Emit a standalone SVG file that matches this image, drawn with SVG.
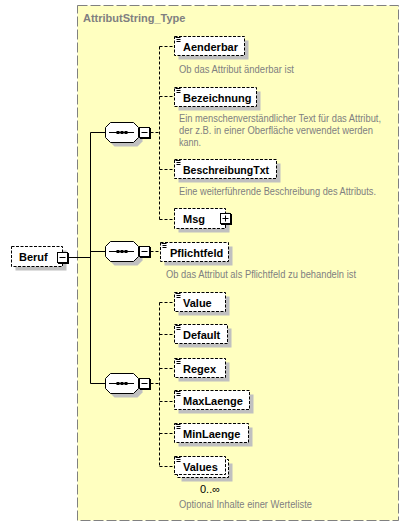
<svg xmlns="http://www.w3.org/2000/svg" xmlns:xlink="http://www.w3.org/1999/xlink" width="409" height="527" viewBox="0 0 409 527">
<style>
.sh{fill:#c0c0c0}
.el{fill:#fff;stroke:#000;stroke-width:1;stroke-dasharray:3,1.5}
.lbl{font-family:'Liberation Sans',Arial,sans-serif;font-weight:bold;font-size:11px;fill:#000}
.desc{font-family:'Liberation Sans',Arial,sans-serif;font-size:10px;fill:#808080}
.solid{stroke:#000;stroke-width:1;fill:none}
.dash{stroke:#000;stroke-width:1;fill:none;stroke-dasharray:3,2}
.ic{stroke:#000;stroke-width:1}
</style>
<defs>
<g id="seq">
<polygon class="sh" points="9.5,4.5 32.5,4.5 37.5,9.5 37.5,19.5 32.5,24.5 9.5,24.5 4.5,19.5 4.5,9.5"/>
<polygon points="5.5,0.5 28.5,0.5 33.5,5.5 33.5,15.5 28.5,20.5 5.5,20.5 0.5,15.5 0.5,5.5" fill="#fff" stroke="#000"/>
<line x1="4" y1="10.5" x2="29" y2="10.5" stroke="#000"/>
<rect x="11.5" y="9" width="3" height="3" fill="#000"/>
<rect x="15.5" y="9" width="3" height="3" fill="#000"/>
<rect x="19.5" y="9" width="3" height="3" fill="#000"/>
<rect x="35" y="6" width="11" height="11" fill="#000"/>
<rect x="34.5" y="5.5" width="10" height="10" fill="#fff" stroke="#000"/>
<line x1="36.5" y1="10.5" x2="42.5" y2="10.5" stroke="#000"/>
</g>
<g id="icon">
<line class="ic" x1="1.5" y1="1.5" x2="6.5" y2="1.5"/>
<line class="ic" x1="2.5" y1="3.5" x2="6.5" y2="3.5"/>
<line class="ic" x1="2.5" y1="5.5" x2="6.5" y2="5.5"/>
</g>
</defs>

<g id="AttributString_Type">
<rect x="77.5" y="5.5" width="321" height="515" fill="#ffffc0" stroke="#808080" stroke-dasharray="10,3"/>
<text x="83" y="22" font-family="'Liberation Sans',Arial,sans-serif" font-weight="bold" font-size="11px" fill="#808080">AttributString_Type</text>
</g>

<g id="connectors">
<path class="solid" d="M68 257.5H90.5M90.5 132.5V383.5M90.5 132.5H105.5M90.5 251.5H105.5M90.5 383.5H105.5"/>
<path class="dash" d="M150.5 132.5H159.5M159.5 46.5V219.5M159.5 46.5H174.5M159.5 96.5H174.5M159.5 169.5H174.5M159.5 219.5H174.5"/>
<path class="dash" d="M150.5 251.5H160.5"/>
<path class="dash" d="M150.5 383.5H159.5M159.5 302.5V466.5M159.5 302.5H174.5M159.5 334.5H174.5M159.5 368.5H174.5M159.5 401.5H174.5M159.5 433.5H174.5M159.5 466.5H174.5"/>
</g>

<g id="Beruf">
<rect class="sh" x="15.5" y="250.5" width="51" height="20"/>
<rect class="el" x="11.5" y="246.5" width="51" height="20"/>
<text class="lbl" x="19" y="261">Beruf</text>
<rect x="58" y="253" width="11" height="11" fill="#000"/>
<rect x="57.5" y="252.5" width="10" height="10" fill="#fff" stroke="#000"/>
<line x1="59.5" y1="257.5" x2="65.5" y2="257.5" stroke="#000"/>
</g>

<g id="sequence1"><use xlink:href="#seq" href="#seq" transform="translate(105,122)"/></g>
<g id="sequence2"><use xlink:href="#seq" href="#seq" transform="translate(105,241)"/></g>
<g id="sequence3"><use xlink:href="#seq" href="#seq" transform="translate(105,373)"/></g>

<g id="Aenderbar">
<rect class="sh" x="178.5" y="40.5" width="70" height="19"/>
<rect class="el" x="174.5" y="36.5" width="70" height="19"/>
<use xlink:href="#icon" href="#icon" transform="translate(174,36)"/>
<text class="lbl" x="183" y="50.5">Aenderbar</text>
<text class="desc" x="179" y="73" textLength="115" lengthAdjust="spacingAndGlyphs">Ob das Attribut änderbar ist</text>
</g>

<g id="Bezeichnung">
<rect class="sh" x="178.5" y="91.5" width="82" height="19"/>
<rect class="el" x="174.5" y="87.5" width="82" height="19"/>
<use xlink:href="#icon" href="#icon" transform="translate(174,87)"/>
<text class="lbl" x="183" y="101.5">Bezeichnung</text>
<text class="desc" x="179" y="122" textLength="202" lengthAdjust="spacingAndGlyphs">Ein menschenverständlicher Text für das Attribut,</text>
<text class="desc" x="179" y="134" textLength="194" lengthAdjust="spacingAndGlyphs">der z.B. in einer Oberfläche verwendet werden</text>
<text class="desc" x="179" y="146" textLength="22" lengthAdjust="spacingAndGlyphs">kann.</text>
</g>

<g id="BeschreibungTxt">
<rect class="sh" x="178.5" y="163.5" width="102" height="19"/>
<rect class="el" x="174.5" y="159.5" width="102" height="19"/>
<use xlink:href="#icon" href="#icon" transform="translate(174,159)"/>
<text class="lbl" x="183" y="173.5" textLength="86" lengthAdjust="spacingAndGlyphs">BeschreibungTxt</text>
<text class="desc" x="179" y="194.5" textLength="197" lengthAdjust="spacingAndGlyphs">Eine weiterführende Beschreibung des Attributs.</text>
</g>

<g id="Msg">
<rect class="sh" x="178.5" y="212.5" width="51" height="20"/>
<rect class="el" x="174.5" y="208.5" width="51" height="20"/>
<text class="lbl" x="183" y="223">Msg</text>
<rect x="221" y="214" width="11" height="11" fill="#000"/>
<rect x="220.5" y="213.5" width="10" height="10" fill="#fff" stroke="#000"/>
<line x1="222.5" y1="218.5" x2="228.5" y2="218.5" stroke="#000"/>
<line x1="225.5" y1="215.5" x2="225.5" y2="221.5" stroke="#000"/>
</g>

<g id="Pflichtfeld">
<rect class="sh" x="164.5" y="246.5" width="68" height="19"/>
<rect class="el" x="160.5" y="242.5" width="68" height="19"/>
<use xlink:href="#icon" href="#icon" transform="translate(160,242)"/>
<text class="lbl" x="170" y="256.5">Pflichtfeld</text>
<text class="desc" x="166" y="277.5" textLength="190" lengthAdjust="spacingAndGlyphs">Ob das Attribut als Pflichtfeld zu behandeln ist</text>
</g>

<g id="Value">
<rect class="sh" x="178.5" y="296.5" width="51" height="19"/>
<rect class="el" x="174.5" y="292.5" width="51" height="19"/>
<use xlink:href="#icon" href="#icon" transform="translate(174,292)"/>
<text class="lbl" x="183" y="306.5">Value</text>
</g>

<g id="Default">
<rect class="sh" x="178.5" y="328.5" width="53" height="19"/>
<rect class="el" x="174.5" y="324.5" width="53" height="19"/>
<use xlink:href="#icon" href="#icon" transform="translate(174,324)"/>
<text class="lbl" x="183" y="338.5">Default</text>
</g>

<g id="Regex">
<rect class="sh" x="178.5" y="362.5" width="51" height="19"/>
<rect class="el" x="174.5" y="358.5" width="51" height="19"/>
<use xlink:href="#icon" href="#icon" transform="translate(174,358)"/>
<text class="lbl" x="183" y="372.5">Regex</text>
</g>

<g id="MaxLaenge">
<rect class="sh" x="178.5" y="394.5" width="75" height="19"/>
<rect class="el" x="174.5" y="390.5" width="75" height="19"/>
<use xlink:href="#icon" href="#icon" transform="translate(174,390)"/>
<text class="lbl" x="183" y="404.5">MaxLaenge</text>
</g>

<g id="MinLaenge">
<rect class="sh" x="178.5" y="427.5" width="74" height="19"/>
<rect class="el" x="174.5" y="423.5" width="74" height="19"/>
<use xlink:href="#icon" href="#icon" transform="translate(174,423)"/>
<text class="lbl" x="183" y="437.5">MinLaenge</text>
</g>

<g id="Values">
<rect class="sh" x="181.5" y="463.5" width="51" height="18"/>
<rect class="el" x="177.5" y="459.5" width="51" height="18"/>
<rect class="el" x="174.5" y="456.5" width="51" height="18"/>
<use xlink:href="#icon" href="#icon" transform="translate(174,456)"/>
<text class="lbl" x="183" y="470.5">Values</text>
<text x="200" y="493" font-family="'Liberation Sans',Arial,sans-serif" font-size="11px" fill="#000">0..∞</text>
<text class="desc" x="179" y="508" textLength="133" lengthAdjust="spacingAndGlyphs">Optional Inhalte einer Werteliste</text>
</g>
</svg>
